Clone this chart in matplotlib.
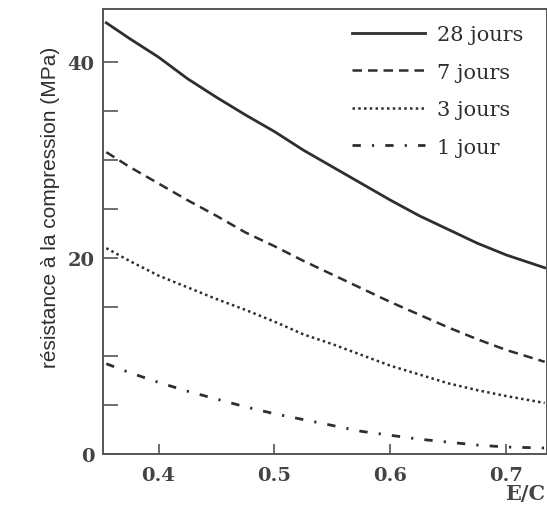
import matplotlib
matplotlib.use('Agg')
import matplotlib.pyplot as plt

# rapport eau/ciment (E/C)
ec = [0.355, 0.375, 0.40, 0.425, 0.45, 0.475, 0.50, 0.525,
      0.55, 0.575, 0.60, 0.625, 0.65, 0.675, 0.70, 0.733]
r28 = [44.0, 42.4, 40.5, 38.3, 36.4, 34.6, 32.9, 31.0,
       29.3, 27.6, 25.9, 24.3, 22.9, 21.5, 20.3, 19.0]
r7 = [30.8, 29.3, 27.6, 25.9, 24.3, 22.6, 21.2, 19.7,
      18.3, 16.9, 15.5, 14.2, 12.9, 11.7, 10.6, 9.4]
r3 = [21.0, 19.7, 18.2, 17.0, 15.8, 14.7, 13.5, 12.2,
      11.2, 10.1, 9.0, 8.1, 7.2, 6.5, 5.9, 5.2]
r1 = [9.2, 8.3, 7.3, 6.4, 5.6, 4.8, 4.1, 3.5,
      2.9, 2.3, 1.9, 1.5, 1.2, 0.9, 0.7, 0.6]
labels = ['28 jours', '7 jours', '3 jours', '1 jour']

ink = '#2e2e2e'
serif = ['DejaVu Serif']

fig = plt.figure(figsize=(5.47, 5.06), dpi=100)
ax = fig.add_axes([0.188, 0.101, 0.812, 0.879])

ax.plot(ec, r28, color=ink, lw=2.0, ls='-', label=labels[0])
ax.plot(ec, r7, color=ink, lw=1.8, ls=(0, (3.8, 2.4)), label=labels[1])
ax.plot(ec, r3, color=ink, lw=1.8, ls=(0, (1, 1.3)), label=labels[2])
ax.plot(ec, r1, color=ink, lw=2.0, ls=(0, (3, 4, 0.8, 4)), label=labels[3])

ax.set_xlim(0.352, 0.735)
ax.set_ylim(0, 45.4)
ax.set_xticks([0.4, 0.5, 0.6, 0.7])
ax.set_xticklabels(['0.4', '0.5', '0.6', '0.7'])
yt = list(range(0, 45, 5))
ax.set_yticks(yt)
ax.set_yticklabels([str(v) if v % 20 == 0 else '' for v in yt])
ax.tick_params(axis='y', direction='in', length=11, width=1.2, color='#555555', pad=6)
ax.tick_params(axis='x', direction='in', length=7, width=1.2, color='#555555', pad=9)
for lab in ax.get_xticklabels() + ax.get_yticklabels():
    lab.set_fontfamily(serif)
    lab.set_fontsize(14)
    lab.set_color('#444444')
    lab.set_fontweight('bold')

for s in ax.spines.values():
    s.set_color('#555555')
    s.set_linewidth(1.4)

ax.set_ylabel('résistance à la compression (MPa)', fontsize=15, color=ink,
              family=['Liberation Sans Narrow', 'Liberation Sans', 'DejaVu Sans'])
ax.yaxis.set_label_coords(-0.097, 0.557)
fig.text(0.997, 0.004, 'E/C', ha='right', va='bottom', fontsize=15, color='#444444',
         family=serif, fontweight='bold')

leg = ax.legend(loc='upper left', frameon=False, handlelength=3.5, handletextpad=0.58,
                labelspacing=0.89, borderpad=0, borderaxespad=0,
                prop={'family': serif, 'size': 15},
                bbox_to_anchor=(352 / 547, 1 - 26 / 506), bbox_transform=fig.transFigure)
for t in leg.get_texts():
    t.set_color(ink)

plt.savefig('out.png', dpi=100)
